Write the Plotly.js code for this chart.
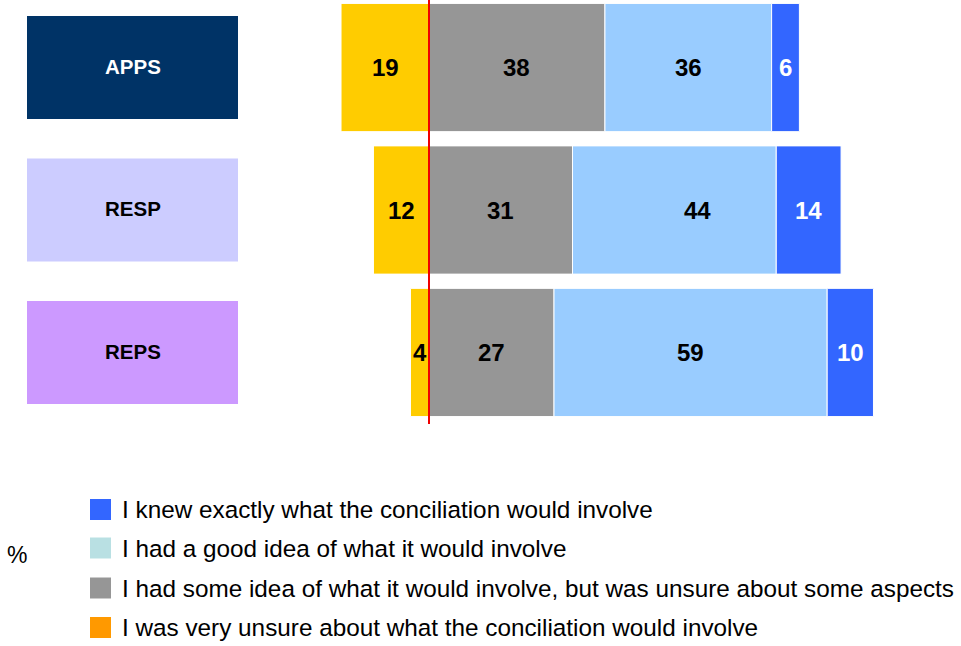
<!DOCTYPE html>
<html>
<head>
<meta charset="utf-8">
<script src="https://cdn.plot.ly/plotly-3.0.1.min.js"></script>
<style>
  html, body { margin: 0; padding: 0; background: #ffffff; }
  #chart { width: 961px; height: 646px; }
</style>
</head>
<body>
<div id="chart"></div>
<script>
// Groups surveyed
const groups = ['APPS', 'RESP', 'REPS'];

// Percentages per answer, one value per group
const veryUnsure  = [19, 12, 4];   // drawn to the left of zero
const someIdea    = [38, 31, 27];
const goodIdea    = [36, 44, 59];
const knewExactly = [6, 14, 10];

// Legend wording, top to bottom
const legendLabels = [
  'I knew exactly what the conciliation would involve',
  'I had a good idea of what it would involve',
  'I had some idea of what it would involve, but was unsure about some aspects',
  'I was very unsure about what the conciliation would involve'
];

const FONT = 'Liberation Sans, Arial, sans-serif';
const barColors = { unsure: '#FFCC00', some: '#969696', good: '#99CCFF', exact: '#3366FF' };
const legendColors = ['#3366FF', '#B9E0E3', '#969696', '#FF9900'];
const groupBoxColors = ['#003366', '#CCCCFF', '#CC99FF'];
const groupTextColors = ['#FFFFFF', '#000000', '#000000'];

function barTrace(x, color) {
  return {
    type: 'bar', orientation: 'h', y: groups, x: x,
    marker: { color: color, line: { color: '#FFFFFF', width: 1 } },
    hoverinfo: 'x+y', showlegend: false
  };
}

const traces = [
  barTrace(veryUnsure.map(v => -v), barColors.unsure),
  barTrace(someIdea, barColors.some),
  barTrace(goodIdea, barColors.good),
  barTrace(knewExactly, barColors.exact)
];

// Value labels centred in each segment
const annotations = [];
const valueFont = (c) => ({ family: FONT, size: 24, color: c });
groups.forEach((g, i) => {
  annotations.push({ x: -veryUnsure[i] / 2, y: g, xref: 'x', yref: 'y', xanchor: 'center',
    text: '<b>' + veryUnsure[i] + '</b>', showarrow: false, font: valueFont('#000000') });
  let start = 0;
  [[someIdea, '#000000'], [goodIdea, '#000000'], [knewExactly, '#FFFFFF']].forEach(([arr, col], k) => {
    const v = arr[i];
    const shift = (k === 1 && g === 'RESP') ? 23 : 0;
    annotations.push({ x: start + v / 2, y: g, xref: 'x', yref: 'y', xanchor: 'center',
      text: '<b>' + v + '</b>', showarrow: false, xshift: shift, font: valueFont(col) });
    start += v;
  });
});

// Group name boxes on the left
const shapes = [];
groups.forEach((g, i) => {
  shapes.push({ type: 'rect', xref: 'paper', yref: 'y', x0: 27 / 961, x1: 238 / 961,
    y0: i - 0.362, y1: i + 0.362, fillcolor: groupBoxColors[i], line: { width: 0 }, layer: 'below' });
  annotations.push({ xref: 'paper', yref: 'y', x: 132.5 / 961, y: i - 0.01, xanchor: 'center', yanchor: 'middle',
    text: '<b>' + g + '</b>', showarrow: false,
    font: { family: FONT, size: 20.5, color: groupTextColors[i] } });
});

// Red zero reference line over the bars
shapes.push({ type: 'line', xref: 'x', yref: 'paper', x0: 0, x1: 0, y0: 0, y1: 1,
  line: { color: '#F00000', width: 2 }, layer: 'above' });

// Legend drawn below the plot
const plotH = 424;
const py = (p) => (plotH - p) / plotH;
const rowCentres = [509.5, 548, 588, 627.5];
legendLabels.forEach((lab, i) => {
  const c = rowCentres[i];
  shapes.push({ type: 'rect', xref: 'paper', yref: 'paper', x0: 90 / 961, x1: 111 / 961,
    y0: py(c + 10.5), y1: py(c - 10.5), fillcolor: legendColors[i], line: { width: 0 } });
  annotations.push({ xref: 'paper', yref: 'paper', x: 120 / 961, y: py(c), xanchor: 'left', yanchor: 'middle',
    text: lab, showarrow: false, font: { family: FONT, size: 24.3, color: '#000000' } });
});
annotations.push({ xref: 'paper', yref: 'paper', x: 17 / 961, y: py(554.5), xanchor: 'center', yanchor: 'middle',
  text: '%', showarrow: false, font: { family: FONT, size: 23, color: '#000000' } });

const pxPerUnit = 4.63;
const zeroPx = 429;
const layout = {
  width: 961, height: 646,
  margin: { l: 0, r: 0, t: 0, b: 646 - plotH, pad: 0 },
  paper_bgcolor: '#FFFFFF', plot_bgcolor: 'rgba(0,0,0,0)',
  barmode: 'relative', bargap: 0.1,
  showlegend: false,
  xaxis: { range: [-zeroPx / pxPerUnit, (961 - zeroPx) / pxPerUnit], showgrid: false, zeroline: false,
    showticklabels: false, ticks: '', showline: false, fixedrange: true },
  yaxis: { type: 'category', range: [2.502, -0.474], showgrid: false, zeroline: false,
    showticklabels: false, ticks: '', showline: false, fixedrange: true },
  shapes: shapes,
  annotations: annotations,
  font: { family: FONT }
};

Plotly.newPlot('chart', traces, layout, { displayModeBar: false, staticPlot: true });
</script>
</body>
</html>
